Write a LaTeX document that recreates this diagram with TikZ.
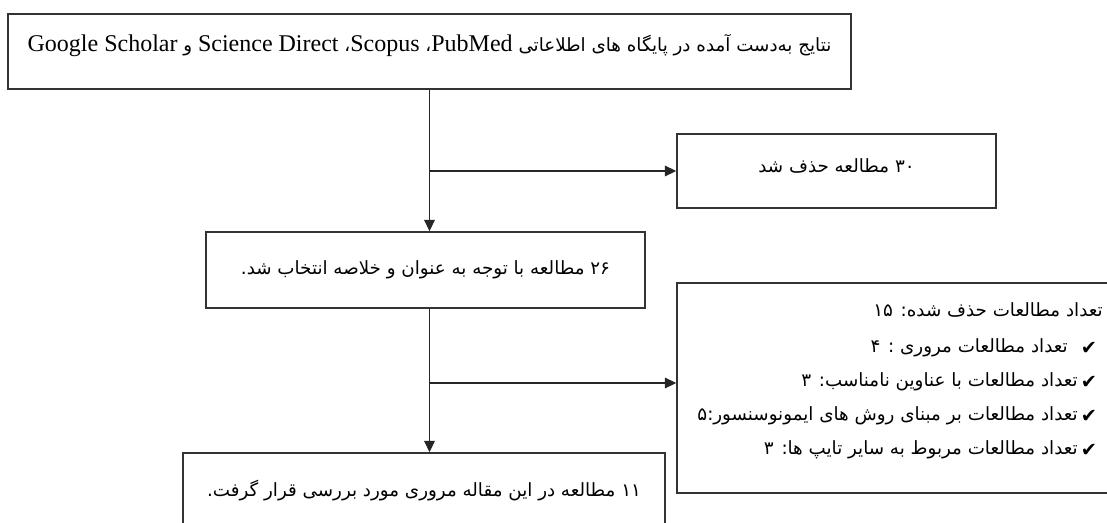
\documentclass[tikz,border=0pt]{standalone}
\usepackage{fontspec}
\setmainfont{Liberation Serif}
\newfontfamily\fafont[Script=Arabic]{DejaVu Sans}
\TeXXeTstate=1
\usetikzlibrary{arrows.meta}
\tikzset{
    box/.style={draw=black!80, line width=1.2pt, inner sep=0pt},
    link/.style={line width=0.9pt, draw=black!85},
    arr/.style={link, -{Triangle[length=8.5pt,width=8pt]}},
    entry/.style={anchor=east, inner sep=0pt},
    tick/.style={inner sep=0pt},
}
\newcommand{\fa}{\fafont\fontsize{13.7}{16}\selectfont}
\newcommand{\en}[1]{{\rmfamily\fontsize{18}{20}\selectfont\beginL #1\endL}}
\newcommand{\chk}{{\fafont\fontsize{14.5}{16}\selectfont ✔}}

\begin{document}
\begin{tikzpicture}[x=0.75pt, y=-0.75pt]
    \useasboundingbox (0,0) rectangle (1107,523);

    % boxes
    \node[box, minimum width=632.25pt, minimum height=56.25pt,
        label={[yshift=4.5pt, font=\fa]center:\beginR نتایج به‌دست آمده در پایگاه های اطلاعاتی \en{PubMed}، \en{Scopus}، \en{Science Direct} و \en{Google Scholar}\endR}]
        (top) at (429.5,51.5) {};
    \node[box, minimum width=239.25pt, minimum height=55.5pt,
        label={[yshift=4pt, font=\fa]center:\beginR ۳۰ مطالعه حذف شد\endR}]
        (del) at (836.5,171) {};
    \node[box, font=\fa, minimum width=329.25pt, minimum height=57pt] (sel) at (425.5,270)
        {\beginR ۲۶ مطالعه با توجه به عنوان و خلاصه انتخاب شد.\endR};
    \node[box, minimum width=323.25pt, minimum height=157.5pt] (list) at (892.5,388) {};
    \node[box, font=\fa, minimum width=361.5pt, minimum height=56.25pt] (final) at (424,490.5)
        {\beginR ۱۱ مطالعه در این مقاله مروری مورد بررسی قرار گرفت.\endR};

    % list of removed studies
    \node[entry, font=\fa] (l1) at (1103,310) {\beginR تعداد مطالعات حذف شده: ۱۵\endR};
    \node[tick] (c2) at (1089,348) {\chk};
    \node[tick] (c3) at (1089,382) {\chk};
    \node[tick] (c4) at (1089,416) {\chk};
    \node[tick] (c5) at (1089,450) {\chk};
    \node[entry, font=\fa] (l2) at (1068,348) {\beginR تعداد مطالعات مروری : ۴\endR};
    \node[entry, font=\fa] (l3) at (1078,382) {\beginR تعداد مطالعات با عناوین نامناسب: ۳\endR};
    \node[entry, font=\fa] (l4) at (1078,416) {\beginR تعداد مطالعات بر مبنای روش های ایمونوسنسور:۵\endR};
    \node[entry, font=\fa] (l5) at (1078,450) {\beginR تعداد مطالعات مربوط به سایر تایپ ها: ۳\endR};

    % connectors
    \draw[arr] (top.south) -- (top.south |- sel.north);
    \draw[arr] (top.south |- del.west) -- (del.west);
    \draw[arr] (top.south |- sel.south) -- (top.south |- final.north);
    \draw[arr] (top.south |- 0,383) -- (list.west |- 0,383);
\end{tikzpicture}
\end{document}
